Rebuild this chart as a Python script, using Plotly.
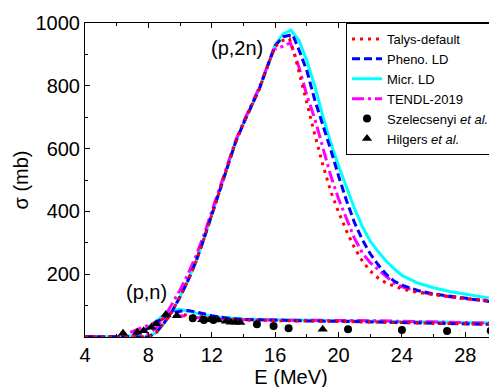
import plotly.graph_objects as go

# ---------------- data ----------------
# (p,2n) model curves
E2_talys = [4, 8, 8.5, 9, 9.5, 10, 10.5, 11, 11.5, 12, 12.5, 13, 13.5, 14, 14.5, 15, 15.5, 16, 16.5, 16.9,
            17.2, 17.5, 18, 18.5, 19, 19.5, 20, 20.5, 21, 21.5, 22, 22.5, 23, 23.5, 24, 25, 26, 27, 28, 29, 30]
S2_talys = [0, 0, 15, 45, 82, 128, 180, 240, 312, 390, 470, 545, 620, 680, 735, 790, 860, 925, 945, 950,
            905, 845, 740, 645, 550, 465, 398, 338, 285, 242, 210, 188, 172, 162, 153, 142, 135, 129, 123, 118, 114]

E2_pheno = [4, 8, 8.5, 9, 9.5, 10, 10.5, 11, 11.5, 12, 12.5, 13, 13.5, 14, 14.5, 15, 15.5, 16, 16.5, 17.1,
            17.5, 18, 18.5, 19, 19.5, 20, 20.5, 21, 21.5, 22, 22.5, 23, 23.5, 24, 25, 26, 27, 28, 29, 30]
S2_pheno = [0, 0, 15, 45, 82, 128, 180, 240, 312, 390, 470, 545, 620, 680, 735, 790, 860, 928, 956, 963,
            915, 848, 755, 680, 598, 513, 435, 365, 310, 265, 230, 200, 178, 165, 148, 137, 130, 123, 116, 110]

E2_micr = [4, 8, 8.5, 9, 9.5, 10, 10.5, 11, 11.5, 12, 12.5, 13, 13.5, 14, 14.5, 15, 15.5, 16, 16.5, 17,
           17.5, 18, 18.5, 19, 19.5, 20, 20.5, 21, 21.5, 22, 22.5, 23, 23.5, 24, 25, 26, 27, 28, 29, 30]
S2_micr = [0, 0, 15, 45, 82, 128, 180, 240, 312, 390, 470, 545, 620, 680, 735, 790, 860, 930, 965, 977,
           945, 880, 800, 705, 620, 545, 478, 410, 352, 305, 272, 242, 218, 196, 172, 157, 145, 136, 128, 121]

E2_tendl = [4, 7.5, 8, 8.5, 9, 9.5, 10, 10.5, 11, 11.5, 12, 12.5, 13, 13.5, 14, 14.5, 15, 15.5, 15.9, 16.5,
            16.96, 17.5, 18, 18.5, 19, 19.5, 20, 20.5, 21, 21.5, 22, 22.5, 23, 23.5, 24, 25, 26, 27, 28, 29, 30]
S2_tendl = [0, 0, 10, 30, 62, 105, 150, 200, 258, 325, 400, 478, 553, 625, 685, 738, 795, 862, 915, 926,
            937, 860, 770, 695, 605, 515, 440, 375, 315, 268, 237, 215, 192, 172, 160, 145, 135, 127, 121, 117, 115]

# (p,n) model curves
E1_talys = [4, 6.5, 7, 7.5, 8, 8.5, 9, 9.5, 10, 10.5, 11, 12, 13, 14, 16, 18, 20, 22, 24, 26, 28, 30]
S1_talys = [0, 0, 6, 16, 30, 45, 60, 70, 72, 70, 66, 60, 56, 54, 52, 51, 50, 48, 46, 44, 42, 40]

E1_pheno = [4, 6.5, 7, 7.5, 8, 8.5, 9, 9.5, 10, 10.5, 11, 12, 13, 14, 16, 18, 20, 22, 24, 26, 28, 30]
S1_pheno = [0, 0, 4, 14, 28, 47, 64, 76, 82, 84, 80, 68, 60, 56, 53, 51, 50, 48, 46, 44, 42, 40]

E1_micr = [4, 6.5, 7, 7.5, 8, 8.5, 9, 9.5, 9.9, 10.5, 11, 12, 13, 14, 16, 18, 20, 22, 24, 26, 28, 30]
S1_micr = [0, 0, 5, 16, 32, 52, 70, 82, 88, 83, 76, 65, 60, 57, 55, 54, 53, 51, 50, 48, 46, 44]

E1_tendl = [4, 6, 6.5, 7, 7.5, 8, 8.5, 9, 9.5, 10, 10.5, 11, 12, 13, 14, 16, 18, 20, 22, 24, 26, 28, 30]
S1_tendl = [0, 0, 8, 18, 28, 38, 48, 58, 65, 68, 66, 62, 58, 56, 55, 54, 54, 53, 52, 50, 48, 46, 44]

# experimental data
E_szel = [10.8, 11.5, 12.1, 14.85, 15.9, 16.85, 20.6, 24.0, 26.85, 29.6]
S_szel = [60, 54, 54, 41, 35, 28, 25, 22, 19, 20]

E_hilg = [6.4, 7.3, 7.7, 8.2, 8.5, 9.1, 9.8, 11.4, 11.9, 12.4, 12.9, 13.2, 13.5, 13.8, 19.0]
S_hilg = [12, 15, 20, 31, 42, 72, 68, 55, 55, 54, 50, 47, 47, 46, 25]

x_ticks = [4, 8, 12, 16, 20, 24, 28]
y_ticks = [200, 400, 600, 800, 1000]

# ---------------- figure ----------------
FONT = "Arial, Liberation Sans, sans-serif"
fig = go.Figure()

models = [
    ("Micr. LD", "#00FFFF", "solid", E2_micr, S2_micr, E1_micr, S1_micr, 3),
    ("TENDL-2019", "#FF00FF", "12px,4px,3px,4px", E2_tendl, S2_tendl, E1_tendl, S1_tendl, 4),
    ("Pheno. LD", "#0000FF", "8px,4px", E2_pheno, S2_pheno, E1_pheno, S1_pheno, 2),
    ("Talys-default", "#FF0000", "3px,5px", E2_talys, S2_talys, E1_talys, S1_talys, 1),
]
for name, col, dash, e2, s2, e1, s1, rank in models:
    fig.add_trace(go.Scatter(x=e2, y=s2, mode="lines", name=name, legendgroup=name,
                             legendrank=rank, line=dict(color=col, width=3, dash=dash)))
    fig.add_trace(go.Scatter(x=e1, y=s1, mode="lines", name=name, legendgroup=name,
                             showlegend=False, line=dict(color=col, width=3, dash=dash)))

fig.add_trace(go.Scatter(x=E_szel, y=S_szel, mode="markers", name="Szelecsenyi <i>et al.</i>",
                         legendrank=5, marker=dict(symbol="circle", size=8, color="black")))
fig.add_trace(go.Scatter(x=E_hilg, y=S_hilg, mode="markers", name="Hilgers <i>et al.</i>",
                         legendrank=6, marker=dict(symbol="triangle-up", size=9, color="black")))

fig.add_annotation(x=13.59, y=920, text="(p,2n)", showarrow=False,
                   font=dict(size=20, color="black", family=FONT))
fig.add_annotation(x=7.85, y=143, text="(p,n)", showarrow=False,
                   font=dict(size=20, color="black", family=FONT))

# The page body has an 8px margin, so the figure is laid out 8px up/left.
fig.update_layout(
    width=497, height=387,
    margin=dict(l=77, r=8, t=15, b=58, autoexpand=False),
    paper_bgcolor="white", plot_bgcolor="white",
    font=dict(family=FONT, color="black", size=20),
    showlegend=True,
    legend=dict(x=0.6335, y=1.0, xanchor="left", yanchor="top",
                bordercolor="black", borderwidth=1, bgcolor="white",
                font=dict(size=13, family=FONT), tracegroupgap=0),
)
fig.update_xaxes(
    range=[4, 30], tickmode="array", tickvals=x_ticks, automargin=False,
    ticks="inside", ticklen=5, tickwidth=1, tickcolor="black",
    minor=dict(ticks="inside", ticklen=3, tickmode="array",
               tickvals=[6, 10, 14, 18, 22, 26, 30], tickcolor="black"),
    showline=True, linecolor="black", linewidth=1, mirror="ticks",
    showgrid=False, zeroline=False,
    tickfont=dict(size=20, family=FONT),
    title=dict(text="E (MeV)", font=dict(size=20, family=FONT), standoff=2),
)
fig.update_yaxes(
    range=[0, 1000], tickmode="array", tickvals=y_ticks, automargin=False,
    ticks="inside", ticklen=5, tickwidth=1, tickcolor="black",
    minor=dict(ticks="inside", ticklen=3, tickmode="array",
               tickvals=[100, 300, 500, 700, 900], tickcolor="black"),
    showline=True, linecolor="black", linewidth=1, mirror="ticks",
    showgrid=False, zeroline=False,
    tickfont=dict(size=20, family=FONT),
    title=dict(text="σ (mb)", font=dict(size=20, family=FONT), standoff=1),
)

fig.write_html("out.html")
